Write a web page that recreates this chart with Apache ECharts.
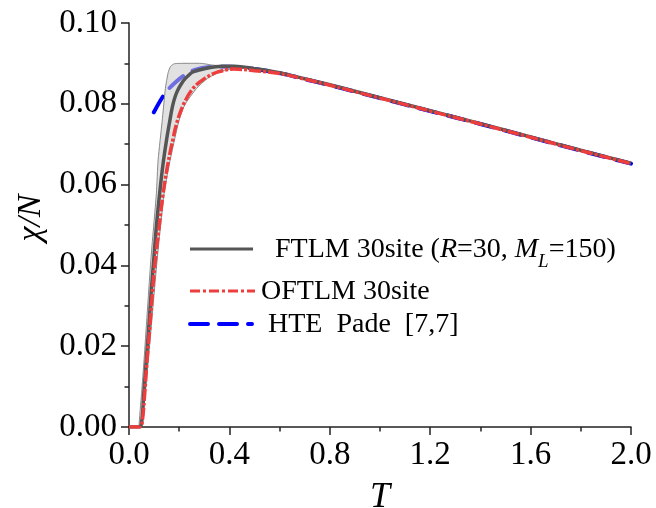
<!DOCTYPE html>
<html>
<head>
<meta charset="utf-8">
<script src="https://cdn.jsdelivr.net/npm/echarts@6/dist/echarts.min.js"></script>
<style>
html,body{margin:0;padding:0;background:#fff;overflow:hidden;}
#c{width:656px;height:508px;}
</style>
</head>
<body>
<div id="c"></div>
<script>
// ---- data ----
const ftlmT   = [0, 0.04, 0.05, 0.059, 0.069, 0.079, 0.088, 0.0985, 0.109, 0.122, 0.135, 0.150, 0.162, 0.173, 0.184, 0.196, 0.210, 0.222, 0.240, 0.255, 0.309, 0.369, 0.42, 0.50, 0.60, 0.70, 0.80, 0.90, 1.00, 1.20, 1.40, 1.60, 1.80, 2.00];
const ftlmChi = [0, 0, 0.001, 0.0083, 0.0166, 0.0248, 0.0331, 0.0413, 0.0496, 0.0578, 0.0648, 0.0712, 0.0756, 0.0793, 0.0818, 0.0836, 0.0851, 0.0861, 0.0872, 0.0879, 0.0888, 0.0893, 0.0893, 0.0887, 0.0877, 0.0862, 0.0847, 0.0831, 0.0815, 0.0783, 0.0751, 0.0718, 0.0685, 0.0653];

const oftlmT   = [0, 0.043, 0.052, 0.0626, 0.072, 0.083, 0.093, 0.105, 0.120, 0.136, 0.156, 0.176, 0.189, 0.216, 0.255, 0.302, 0.355, 0.42, 0.50, 0.60, 0.70, 0.80, 0.90, 1.00, 1.20, 1.40, 1.60, 1.80, 2.00];
const oftlmChi = [0, 0, 0.001, 0.0083, 0.0166, 0.0248, 0.0331, 0.0413, 0.0496, 0.0578, 0.0655, 0.0715, 0.0750, 0.0797, 0.0838, 0.0863, 0.0879, 0.0886, 0.0882, 0.0875, 0.0861, 0.0846, 0.0830, 0.0814, 0.0782, 0.0750, 0.0717, 0.0684, 0.0652];

const hteT   = [0.099, 0.132, 0.160, 0.190, 0.219, 0.262, 0.32, 0.40, 0.50, 0.60, 0.70, 0.80, 0.90, 1.00, 1.20, 1.40, 1.60, 1.80, 2.00];
const hteChi = [0.0779, 0.0815, 0.0838, 0.0856, 0.0870, 0.0884, 0.0891, 0.0892, 0.0886, 0.0876, 0.0861, 0.0846, 0.0830, 0.0814, 0.0782, 0.0750, 0.0717, 0.0684, 0.0652];

// FTLM error band (upper / lower edges)
const bandUpT   = [0.040, 0.050, 0.060, 0.087, 0.109, 0.116, 0.132, 0.145, 0.156, 0.166, 0.180, 0.200, 0.289, 0.330, 0.370, 0.450, 0.550];
const bandUpChi = [0, 0.0083, 0.0166, 0.0413, 0.0578, 0.0661, 0.0756, 0.0838, 0.0877, 0.0893, 0.0899, 0.0900, 0.0900, 0.0896, 0.0894, 0.0892, 0.0883];
const bandLoT   = [0.048, 0.064, 0.077, 0.112, 0.140, 0.160, 0.198, 0.222, 0.269, 0.313, 0.375, 0.450, 0.550];
const bandLoChi = [0, 0.0083, 0.0166, 0.0413, 0.0578, 0.0649, 0.0756, 0.0797, 0.0838, 0.0863, 0.0882, 0.0888, 0.0881];

const xTicks = ['0.0', '0.4', '0.8', '1.2', '1.6', '2.0'];
const yTicks = ['0.00', '0.02', '0.04', '0.06', '0.08', '0.10'];

const seriesNames = ['FTLM 30site (R=30, M_L=150)', 'OFTLM 30site', 'HTE  Pade  [7,7]'];

// ---- chart ----
const FONT = 'Liberation Serif';
const zip = (a, b) => a.map((v, i) => [v, b[i]]);
const bandUp = zip(bandUpT, bandUpChi);
const bandLo = zip(bandLoT, bandLoChi);

const chart = echarts.init(document.getElementById('c'), null, {renderer: 'canvas', width: 656, height: 508});

const axisCommon = {
  type: 'value',
  axisLine: {show: true, onZero: false, lineStyle: {color: '#222', width: 1.5}},
  axisTick: {show: true, inside: false, length: 8, lineStyle: {color: '#222', width: 1.5}},
  minorTick: {show: true, splitNumber: 2, length: 4.5, lineStyle: {color: '#222', width: 1.5}},
  splitLine: {show: false},
  minorSplitLine: {show: false}
};

const option = {
  animation: false,
  backgroundColor: '#fff',
  grid: {left: 129, top: 23, width: 502, height: 404, containLabel: false, outerBoundsMode: 'none'},
  xAxis: Object.assign({}, axisCommon, {
    min: 0, max: 2, interval: 0.4,
    axisLabel: {
      fontFamily: FONT, fontSize: 33, color: '#000', margin: 12,
      formatter: v => xTicks[Math.round(v / 0.4)]
    },
    name: 'T', nameLocation: 'middle', nameGap: 53,
    nameTextStyle: {fontFamily: FONT, fontStyle: 'italic', fontSize: 36, color: '#000'}
  }),
  yAxis: Object.assign({}, axisCommon, {
    min: 0, max: 0.1, interval: 0.02,
    axisLabel: {
      fontFamily: FONT, fontSize: 33, color: '#000', margin: 12,
      formatter: v => yTicks[Math.round(v / 0.02)]
    },
    name: 'χ/N', nameLocation: 'middle', nameGap: 78, nameRotate: 90,
    nameTextStyle: {fontFamily: FONT, fontStyle: 'italic', fontSize: 34, color: '#000', padding: [0, 0, 0, 14]}
  }),
  series: [
    {
      name: seriesNames[2], type: 'line', z: 1,
      data: zip(hteT, hteChi), showSymbol: false, symbol: 'none',
      smooth: 0.35,
      lineStyle: {color: '#0000ff', width: 4, type: [18, 11], cap: 'round'}
    },
    {
      name: 'band', type: 'custom', z: 2, coordinateSystem: 'cartesian2d',
      data: [[0.2, 0.05]], silent: true, clip: true,
      renderItem: function (params, api) {
        const pts = bandUp.map(p => api.coord(p))
          .concat(bandLo.slice().reverse().map(p => api.coord(p)));
        return {
          type: 'polygon',
          shape: {points: pts, smooth: 0.2},
          style: {fill: 'rgba(200,200,200,0.55)', stroke: '#8a8a8a', lineWidth: 1}
        };
      }
    },
    {
      name: seriesNames[0], type: 'line', z: 3,
      data: zip(ftlmT, ftlmChi), showSymbol: false, symbol: 'none',
      smooth: 0.35,
      lineStyle: {color: '#555555', width: 3.5}
    },
    {
      name: seriesNames[1], type: 'line', z: 4,
      data: zip(oftlmT, oftlmChi), showSymbol: false, symbol: 'none',
      smooth: 0.35,
      lineStyle: {color: '#ee3d3d', width: 3.5, type: [12, 2, 3, 2]}
    }
  ],
  graphic: [
    {type: 'line', z: 100, shape: {x1: 190, y1: 249, x2: 253, y2: 249},
      style: {stroke: '#555555', lineWidth: 3}},
    {type: 'text', z: 100, x: 275, y: 250,
      style: {
        text: 'FTLM 30site ({i|R}=30, {i|M}{s|L}=150)',
        fontFamily: FONT, fontSize: 28, fill: '#000', lineHeight: 48,
        verticalAlign: 'middle', align: 'left',
        rich: {
          i: {fontFamily: FONT, fontSize: 28, fontStyle: 'italic', lineHeight: 48, fill: '#000'},
          s: {fontFamily: FONT, fontSize: 19, fontStyle: 'italic', lineHeight: 20,
              verticalAlign: 'top', padding: [26, 0, 0, 0], fill: '#000'}
        }
      }},
    {type: 'line', z: 100, shape: {x1: 190, y1: 291, x2: 255, y2: 291},
      style: {stroke: '#ee3d3d', lineWidth: 3, lineDash: [10, 3, 3, 3]}},
    {type: 'text', z: 100, x: 261, y: 292,
      style: {text: seriesNames[1], fontFamily: FONT, fontSize: 28, fill: '#000',
        verticalAlign: 'middle', align: 'left'}},
    {type: 'line', z: 100, shape: {x1: 190, y1: 324, x2: 252, y2: 324},
      style: {stroke: '#0000ff', lineWidth: 4, lineDash: [18, 11], lineCap: 'round'}},
    {type: 'text', z: 100, x: 268, y: 325,
      style: {text: seriesNames[2], fontFamily: FONT, fontSize: 28, fill: '#000',
        verticalAlign: 'middle', align: 'left'}}
  ]
};
chart.setOption(option);
</script>
</body>
</html>
